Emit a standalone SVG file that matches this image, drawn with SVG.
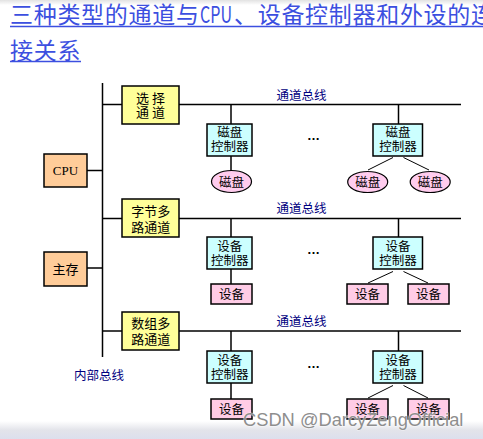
<svg xmlns="http://www.w3.org/2000/svg" width="483" height="439" viewBox="0 0 483 439">
<defs>
<linearGradient id="topg" x1="0" y1="0" x2="0" y2="1"><stop offset="0" stop-color="#e2e2e2"/><stop offset="1" stop-color="#ffffff"/></linearGradient>
<linearGradient id="botg" x1="0" y1="0" x2="0" y2="1"><stop offset="0" stop-color="#ffffff"/><stop offset="0.5" stop-color="#e3e4ea"/><stop offset="1" stop-color="#dcdfed"/></linearGradient>
</defs>
<style>
.ln{stroke:#000;stroke-width:1.5;fill:none}
.thin{stroke:#000;stroke-width:1;fill:none}
.box{stroke:#000;stroke-width:1.5}
.ch{fill:#ffff99}
.mem{fill:#ffcc99}
.ctl{fill:#ccffff}
.dev{fill:#ffcce6}
.disk{fill:#ffccee;stroke:#000;stroke-width:1.2}
.t{font-family:"Noto Sans CJK SC","Noto Sans",sans-serif;font-size:13px;text-anchor:middle;fill:#000}
.s{font-size:12.5px}
.bus{font-family:"Noto Sans CJK SC",sans-serif;font-size:12.5px;fill:#000080}
.dots{font-family:"Liberation Sans",sans-serif;font-size:13px;font-weight:bold;text-anchor:middle;fill:#000}
.title{font-family:"Noto Sans CJK SC",sans-serif;font-size:23px;letter-spacing:0.7px;fill:#3c4fe0}
</style>
<rect x="0" y="0" width="483" height="439" fill="#fff"/>
<rect x="0" y="0" width="483" height="5" fill="url(#topg)"/>

<g id="title">
<text class="title" x="10" y="22.5">三种类型的通道与</text>
<text class="title" x="200" y="22.5" textLength="32" lengthAdjust="spacingAndGlyphs" style="letter-spacing:0">CPU</text>
<text class="title" x="234" y="22.5">、设备控制器和外设的连</text>
<text class="title" x="10" y="58.5">接关系</text>
<line x1="10" y1="26.5" x2="483" y2="26.5" stroke="#3c4fe0" stroke-width="1.5"/>
<line x1="10" y1="61.5" x2="81" y2="61.5" stroke="#3c4fe0" stroke-width="1.5"/>
</g>

<g id="connectors">
<line class="ln" x1="102.5" y1="83" x2="102.5" y2="357"/>
<line class="ln" x1="87" y1="170.5" x2="102.5" y2="170.5"/>
<line class="ln" x1="87" y1="268" x2="102.5" y2="268"/>
<line class="ln" x1="102.5" y1="104.5" x2="122" y2="104.5"/>
<line class="ln" x1="102.5" y1="218.5" x2="122" y2="218.5"/>
<line class="ln" x1="102.5" y1="331" x2="122" y2="331"/>
<line class="ln" x1="179" y1="104.5" x2="461" y2="104.5"/>
<line class="ln" x1="179" y1="218.5" x2="461" y2="218.5"/>
<line class="ln" x1="179" y1="331" x2="461" y2="331"/>
<line class="ln" x1="231" y1="104.5" x2="231" y2="124"/>
<line class="ln" x1="231" y1="218.5" x2="231" y2="237"/>
<line class="ln" x1="231" y1="331" x2="231" y2="351"/>
<line class="ln" x1="398.5" y1="104.5" x2="398.5" y2="124"/>
<line class="ln" x1="398.5" y1="218.5" x2="398.5" y2="237"/>
<line class="ln" x1="398.5" y1="331" x2="398.5" y2="351"/>
<line class="ln" x1="231" y1="156" x2="231" y2="171"/>
<line class="ln" x1="231" y1="269" x2="231" y2="284"/>
<line class="ln" x1="231" y1="383" x2="231" y2="399"/>
<line class="thin" x1="393" y1="157.5" x2="368" y2="170"/>
<line class="thin" x1="403.5" y1="157.5" x2="429" y2="170"/>
<line class="thin" x1="393" y1="271.5" x2="368" y2="283"/>
<line class="thin" x1="403.5" y1="271.5" x2="428" y2="283"/>
<line class="thin" x1="393" y1="385.5" x2="368" y2="398"/>
<line class="thin" x1="403.5" y1="385.5" x2="428" y2="398"/>
</g>

<g id="cpu">
<rect class="box mem" x="44" y="154" width="43" height="33"/>
<text x="65.5" y="175" font-family="Liberation Serif,serif" font-size="13" text-anchor="middle">CPU</text>
</g>
<g id="mainmem">
<rect class="box mem" x="44" y="252" width="43" height="34"/>
<text class="t" x="65.5" y="274">主存</text>
</g>

<g id="ch1">
<rect class="box ch" x="122" y="86" width="57" height="38"/>
<text class="t" x="152" y="102.6" style="letter-spacing:3px">选择</text>
<text class="t" x="152" y="117.1" style="letter-spacing:3px">通道</text>
</g>
<g id="ch2">
<rect class="box ch" x="122" y="199" width="57" height="38"/>
<text class="t" x="150.8" y="215.6">字节多</text>
<text class="t" x="150.8" y="231.6">路通道</text>
</g>
<g id="ch3">
<rect class="box ch" x="122" y="312" width="57" height="38"/>
<text class="t" x="150.8" y="328">数组多</text>
<text class="t" x="150.8" y="344">路通道</text>
</g>

<g id="labels">
<text class="bus" x="276.5" y="99.7">通道总线</text>
<text class="bus" x="276.5" y="213">通道总线</text>
<text class="bus" x="276.5" y="326">通道总线</text>
<text class="bus" x="74" y="380.3">内部总线</text>
<text class="dots" x="313.5" y="139.5">…</text>
<text class="dots" x="313.5" y="253.5">…</text>
<text class="dots" x="313.5" y="367.5">…</text>
</g>

<g id="ctl1a"><rect class="box ctl" x="207" y="124" width="45" height="32"/><text class="t s" x="229.7" y="136.8">磁盘</text><text class="t s" x="229.7" y="151.2">控制器</text></g>
<g id="ctl1b"><rect class="box ctl" x="373" y="124" width="49.5" height="32"/><text class="t s" x="398" y="136.8">磁盘</text><text class="t s" x="398" y="151.2">控制器</text></g>
<g id="ctl2a"><rect class="box ctl" x="207" y="237" width="45" height="32"/><text class="t s" x="229.7" y="251.3">设备</text><text class="t s" x="229.7" y="265.3">控制器</text></g>
<g id="ctl2b"><rect class="box ctl" x="373" y="237" width="49.5" height="32"/><text class="t s" x="398" y="251.3">设备</text><text class="t s" x="398" y="265.3">控制器</text></g>
<g id="ctl3a"><rect class="box ctl" x="207" y="351" width="45" height="32"/><text class="t s" x="229.7" y="365">设备</text><text class="t s" x="229.7" y="379">控制器</text></g>
<g id="ctl3b"><rect class="box ctl" x="373" y="351" width="49.5" height="32"/><text class="t s" x="398" y="365">设备</text><text class="t s" x="398" y="379">控制器</text></g>

<g id="disk1"><ellipse class="disk" cx="231.5" cy="181.5" rx="20" ry="11"/><text class="t s" x="231.5" y="186.5">磁盘</text></g>
<g id="disk2"><ellipse class="disk" cx="367.7" cy="182" rx="20" ry="10.5"/><text class="t s" x="367.7" y="187">磁盘</text></g>
<g id="disk3"><ellipse class="disk" cx="430.2" cy="182" rx="20" ry="10.5"/><text class="t s" x="430.2" y="187">磁盘</text></g>

<g id="dev2a"><rect class="box dev" x="211" y="284" width="41" height="20"/><text class="t s" x="231.5" y="298.8">设备</text></g>
<g id="dev2b"><rect class="box dev" x="347" y="284" width="41" height="20"/><text class="t s" x="367.5" y="298.8">设备</text></g>
<g id="dev2c"><rect class="box dev" x="408" y="284" width="41" height="20"/><text class="t s" x="428.5" y="298.8">设备</text></g>
<g id="dev3a"><rect class="box dev" x="211" y="399" width="41" height="20"/><text class="t s" x="231.5" y="413.8">设备</text></g>
<g id="dev3b"><rect class="box dev" x="347" y="399" width="41" height="20"/><text class="t s" x="367.5" y="413.8">设备</text></g>
<g id="dev3c"><rect class="box dev" x="408" y="399" width="41" height="20"/><text class="t s" x="428.5" y="413.8">设备</text></g>

<rect x="0" y="421" width="483" height="18" fill="url(#botg)"/>
<text x="243" y="426" font-family="Liberation Sans,sans-serif" font-size="18.3" fill="#8e8e8e" stroke="#ffffff" stroke-width="1.2" stroke-opacity="0.6" paint-order="stroke">CSDN @DarcyZengOfficial</text>
</svg>
